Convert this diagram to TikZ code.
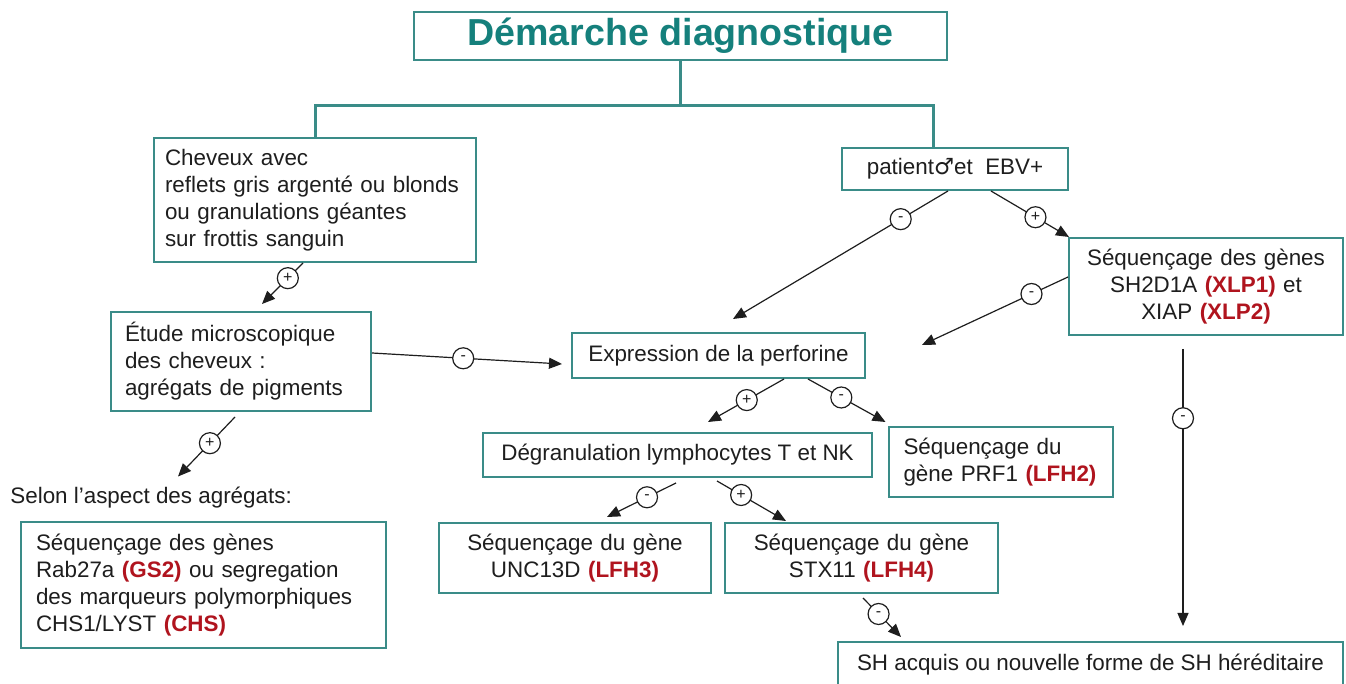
\documentclass[tikz,border=0pt]{standalone}
\usepackage{fontspec}
\setmainfont{Liberation Sans}
\newfontfamily\symfont{DejaVu Sans}
\usetikzlibrary{arrows.meta,calc}
\definecolor{tealbox}{HTML}{3A8C88}
\definecolor{tealtitle}{HTML}{15807C}
\definecolor{redlab}{HTML}{B0141E}
\definecolor{ink}{HTML}{1E1E1E}
\newcommand{\lab}[1]{\textcolor{redlab}{\bfseries #1}}
\begin{document}
\begin{tikzpicture}[x=0.5pt,y=-0.5pt,
  every node/.style={font=\fontsize{11.2pt}{13.5pt}\selectfont, text=ink},
  box/.style={draw=tealbox, line width=1pt, rectangle, fill=white, inner ysep=0pt},
  lbox/.style={box, inner xsep=7.5pt, align=left},
  cbox/.style={box, inner xsep=7.5pt, align=center},
  sign/.style={circle, draw=ink, fill=white, line width=0.6pt, minimum size=10.5pt,
    inner sep=0pt, font=\fontsize{8pt}{8pt}\selectfont},
  arr/.style={draw=ink, line width=0.6pt, -{Triangle[length=6.5pt,width=5.5pt]}},
  tline/.style={draw=tealbox, line width=1.5pt}
]
\path[use as bounding box, fill=white] (0,0) rectangle (1346,684);

% boxes
\node[cbox, minimum width=266.5pt, minimum height=24pt,
  font=\fontsize{18.8pt}{20pt}\selectfont\bfseries, text=tealtitle] (title) at (680.5,36) {Démarche diagnostique};
\node[lbox, inner xsep=5.5pt, text width=150pt, minimum height=62pt] (chev) at (315,200)
  {Cheveux avec\\reflets gris argenté ou blonds\\ou granulations géantes\\sur frottis sanguin};
\node[cbox, minimum width=113pt, minimum height=21pt] (patient) at (955,169)
  {patient{\symfont ♂}et\ \ EBV+};
\node[cbox, text width=122pt, minimum height=48.5pt] (xlp) at (1206,286.5)
  {Séquençage des gènes\\SH2D1A \lab{(XLP1)} et\\XIAP \lab{(XLP2)}};
\node[lbox, inner xsep=7pt, text width=116pt, minimum height=49.5pt] (etude) at (241,361.5)
  {Étude microscopique\\des cheveux :\\agrégats de pigments};
\node[cbox, minimum width=146.5pt, minimum height=22.5pt] (expr) at (718.5,355.5)
  {Expression de la perforine};
\node[cbox, minimum width=194.5pt, minimum height=22pt] (degran) at (677.5,455)
  {Dégranulation lymphocytes T et NK};
\node[lbox, text width=97pt, minimum height=35pt] (prf) at (1000.5,462)
  {Séquençage du\\gène PRF1 \lab{(LFH2)}};
\node[anchor=base west, inner sep=0pt] (selon) at (10,504) {Selon l'aspect des agrégats:};
\node[lbox, text width=167.5pt, minimum height=63pt] (rab) at (203.5,585)
  {Séquençage des gènes\\Rab27a \lab{(GS2)} ou segregation\\des marqueurs polymorphiques\\CHS1/LYST \lab{(CHS)}};
\node[cbox, text width=121pt, minimum height=35pt] (unc) at (575,558)
  {Séquençage du gène\\UNC13D \lab{(LFH3)}};
\node[cbox, text width=121.5pt, minimum height=35pt] (stx) at (861.5,558)
  {Séquençage du gène\\STX11 \lab{(LFH4)}};
\node[cbox, minimum width=252.5pt, minimum height=23pt] (shacq) at (1090.5,665)
  {SH acquis ou nouvelle forme de SH héréditaire};
\coordinate (free1) at (922,345);

% teal tree
\draw[tline] (title.south) -- ++(0,45) -| (chev.north);
\draw[tline] (title.south) -- ++(0,45) -| ([xshift=-11pt]patient.north);

% arrows
\draw[arr] ([xshift=-6pt]chev.south) -- ([xshift=10.5pt,yshift=3.5pt]etude.north)
  node[sign, pos=0.37] (s1) {+};
\draw[arr] ([yshift=4.25pt]etude.east) -- ([xshift=-4.5pt,yshift=-4.25pt]expr.west)
  node[sign, pos=0.48] (s2) {-};
\draw[arr] ([xshift=-3pt,yshift=-2.5pt]etude.south) -- ([xshift=84pt,yshift=5.3pt]selon.north west)
  node[sign, pos=0.44] (s3) {+};
\draw[arr] ([xshift=-3.5pt]patient.south) -- ([xshift=7.25pt,yshift=6.5pt]expr.north)
  node[sign, pos=0.22] (s4) {-};
\draw[arr] ([xshift=18pt]patient.south) -- ([xshift=0.5pt]xlp.north west)
  node[sign, pos=0.57] (s5) {+};
\draw[arr] ([yshift=4.75pt]xlp.west) -- (free1)
  node[sign, pos=0.25] (s6) {-};
\draw[arr] ([xshift=-11.5pt,yshift=-6.5pt]xlp.south) -- ([xshift=46.25pt,yshift=7.5pt]shacq.north)
  node[sign, pos=0.25] (s7) {-};
\draw[arr] ([xshift=32.75pt]expr.south) -- ([xshift=15.25pt,yshift=5pt]degran.north)
  node[sign, pos=0.49] (s8) {+};
\draw[arr] ([xshift=44.75pt]expr.south) -- ([xshift=-1pt,yshift=2pt]prf.north west)
  node[sign, pos=0.43] (s9) {-};
\draw[arr] ([xshift=-0.75pt,yshift=-2.5pt]degran.south) -- ([xshift=16pt,yshift=2.5pt]unc.north)
  node[sign, pos=0.42] (s10) {-};
\draw[arr] ([xshift=19.75pt,yshift=-1.5pt]degran.south) -- ([xshift=-37.75pt,yshift=0.5pt]stx.north)
  node[sign, pos=0.35] (s11) {+};
\draw[arr] ([xshift=0.75pt,yshift=-2pt]stx.south) -- ([xshift=32pt,yshift=2pt]shacq.north west)
  node[sign, pos=0.41] (s12) {-};
\end{tikzpicture}
\end{document}
